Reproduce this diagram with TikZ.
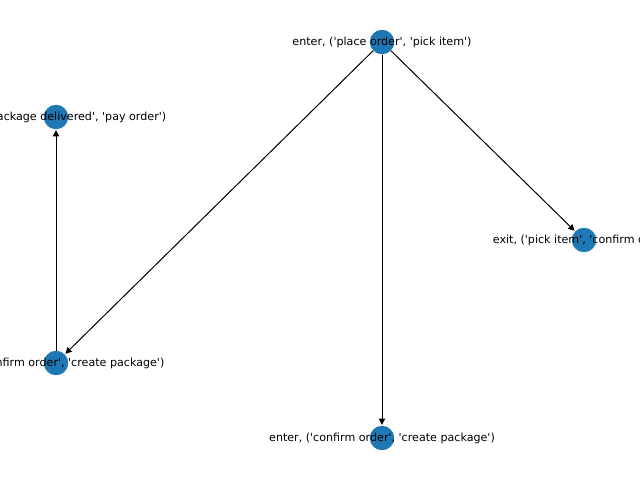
\documentclass[tikz,border=0pt]{standalone}
\usepackage{fontspec}
\newfontfamily\lblfont{DejaVu Sans}
\usetikzlibrary{arrows.meta}
\definecolor{nodeblue}{HTML}{1F77B4}
\tikzset{
  vtx/.style={circle,fill=nodeblue,minimum size=17.6pt,inner sep=0pt},
  lbl/.style={font=\lblfont\fontsize{8pt}{9.6pt}\selectfont,inner sep=0pt,text=black},
  edge/.style={draw=black,line width=0.72pt,-{Triangle[length=4.5pt,width=4.5pt]},shorten >=0.5pt}
}
\begin{document}
\begin{tikzpicture}[x=0.72pt,y=-0.72pt]
\useasboundingbox (0,0) rectangle (640,480);
\clip (0,0) rectangle (640,480);
\node[vtx] (a) at (382,42) {};
\node[vtx] (b) at (56,117) {};
\node[vtx] (c) at (584,240) {};
\node[vtx] (d) at (56,363) {};
\node[vtx] (e) at (382,438) {};
\draw[edge] (a) -- (d);
\draw[edge] (a) -- (e);
\draw[edge] (a) -- (c);
\draw[edge] (d) -- (b);
\node[lbl] (la) at (a) {enter, ('place order', 'pick item')};
\node[lbl] (lb) at (b) {enter, ('package delivered', 'pay order')};
\node[lbl] (lc) at (c) {exit, ('pick item', 'confirm order')};
\node[lbl] (ld) at (d) {exit, ('confirm order', 'create package')};
\node[lbl] (le) at (e) {enter, ('confirm order', 'create package')};
\end{tikzpicture}
\end{document}
